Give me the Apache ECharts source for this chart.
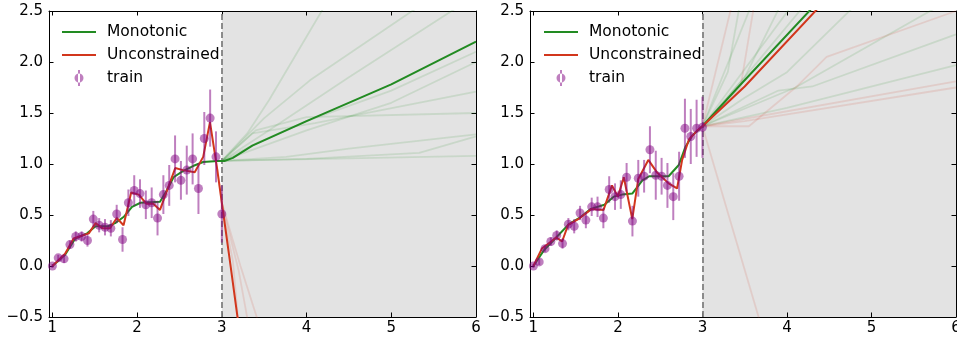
<!DOCTYPE html>
<html>
<head>
<meta charset="utf-8">
<script src="https://cdn.jsdelivr.net/npm/echarts@6/dist/echarts.min.js"></script>
<style>
  html, body { margin: 0; padding: 0; background: #fff; }
  #chart { width: 957px; height: 337px; }
</style>
</head>
<body>
<div id="chart"></div>
<script>
const FONT = 'DejaVu Sans';
const GREEN = '#228b22';
const RED = '#d2361c';
const PURPLE = '#800080';

// training points (shared x)
const trainX = [1.000, 1.069, 1.138, 1.207, 1.276, 1.345, 1.414, 1.483, 1.552, 1.621,
  1.690, 1.759, 1.828, 1.897, 1.966, 2.034, 2.103, 2.172, 2.241, 2.310,
  2.379, 2.448, 2.517, 2.586, 2.655, 2.724, 2.793, 2.862, 2.931, 3.000];

const leftTrainY = [0.00, 0.08, 0.07, 0.21, 0.29, 0.29, 0.25, 0.46, 0.40, 0.38,
  0.37, 0.51, 0.26, 0.62, 0.74, 0.71, 0.60, 0.62, 0.47, 0.70,
  0.79, 1.05, 0.84, 0.94, 1.05, 0.76, 1.25, 1.45, 1.07, 0.51];
const leftTrainErr = [0.02, 0.03, 0.04, 0.04, 0.05, 0.05, 0.06, 0.08, 0.07, 0.08,
  0.08, 0.09, 0.12, 0.13, 0.15, 0.14, 0.14, 0.15, 0.17, 0.19,
  0.20, 0.23, 0.19, 0.24, 0.25, 0.25, 0.26, 0.28, 0.25, 0.28];

const rightTrainY = [0.00, 0.04, 0.17, 0.24, 0.30, 0.22, 0.41, 0.39, 0.52, 0.45,
  0.58, 0.58, 0.47, 0.75, 0.68, 0.70, 0.87, 0.44, 0.86, 0.88,
  1.14, 0.89, 0.88, 0.79, 0.68, 0.88, 1.35, 1.27, 1.35, 1.36];
const rightTrainErr = [0.02, 0.03, 0.03, 0.04, 0.05, 0.05, 0.06, 0.07, 0.07, 0.08,
  0.09, 0.10, 0.10, 0.13, 0.13, 0.14, 0.14, 0.15, 0.18, 0.16,
  0.23, 0.24, 0.18, 0.22, 0.23, 0.24, 0.29, 0.27, 0.28, 0.30];

// fitted curves
const leftMono = [[1, 0], [1.15, 0.11], [1.27, 0.27], [1.41, 0.32], [1.51, 0.39], [1.66, 0.39],
  [1.74, 0.42], [1.84, 0.48], [1.94, 0.58], [2.04, 0.62], [2.27, 0.63], [2.35, 0.74],
  [2.43, 0.87], [2.54, 0.93], [2.66, 0.98], [2.78, 1.02], [2.95, 1.03], [3.03, 1.03],
  [3.13, 1.06], [3.36, 1.18], [4.0, 1.42], [5.0, 1.78], [6, 2.2]];
const leftUncon = [[1, 0], [1.15, 0.12], [1.25, 0.27], [1.43, 0.32], [1.51, 0.42], [1.59, 0.37],
  [1.68, 0.37], [1.76, 0.47], [1.84, 0.40], [1.93, 0.72], [2.02, 0.70], [2.11, 0.61],
  [2.19, 0.61], [2.27, 0.55], [2.45, 0.96], [2.54, 0.94], [2.68, 0.92], [2.78, 1.07],
  [2.86, 1.41], [2.94, 0.98], [3.0, 0.62], [3.1, 0.02], [3.25, -0.9]];

const rightMono = [[1, 0], [1.13, 0.16], [1.27, 0.28], [1.42, 0.41], [1.56, 0.48], [1.68, 0.56],
  [1.84, 0.60], [1.95, 0.68], [2.05, 0.70], [2.17, 0.71], [2.29, 0.84], [2.37, 0.88],
  [2.6, 0.88], [2.72, 0.99], [2.8, 1.17], [2.88, 1.28], [3.0, 1.37], [3.43, 1.76], [4.4, 2.62]];
const rightUncon = [[1, 0], [1.1, 0.17], [1.21, 0.24], [1.27, 0.28], [1.34, 0.24], [1.41, 0.40],
  [1.55, 0.47], [1.69, 0.56], [1.83, 0.55], [1.93, 0.79], [2.0, 0.68], [2.07, 0.87],
  [2.17, 0.46], [2.24, 0.85], [2.36, 1.04], [2.46, 0.92], [2.6, 0.81], [2.7, 0.76],
  [2.76, 1.04], [2.84, 1.24], [2.94, 1.33], [3.0, 1.37], [3.5, 1.76], [4.45, 2.6]];

// faint ensemble members in the extrapolation region
const leftMonoFan = [
  [[3, 1.03], [3.3, 1.3], [3.56, 1.63], [4.25, 2.6]],
  [[3, 1.03], [3.5, 1.45], [4.04, 1.82], [5.3, 2.53]],
  [[3, 1.03], [3.5, 1.3], [4.5, 1.85], [5.75, 2.52]],
  [[3, 1.03], [3.4, 1.2], [4, 1.42], [5, 1.72], [6, 2.1]],
  [[3, 1.03], [4, 1.33], [5, 1.6], [6, 2.0]],
  [[3, 1.03], [3.36, 1.3], [4.1, 1.4], [6, 1.71]],
  [[3, 1.03], [3.4, 1.33], [4, 1.46], [6, 1.5]],
  [[3, 1.03], [4, 1.05], [5.33, 1.11], [6, 1.27]],
  [[3, 1.03], [3.76, 1.07], [4.5, 1.15], [6, 1.29]],
  [[3, 1.03], [6, 1.08]]
];
const leftUnconFan = [
  [[2.95, 0.95], [3.0, 0.62], [3.2, -0.05], [3.32, -0.6]],
  [[3.0, 0.62], [3.22, 0.0], [3.45, -0.6]],
  [[3.0, 0.6], [3.13, 0.05], [3.2, -0.6]]
];
const rightMonoFan = [
  [[3, 1.37], [3.6, 2.6]],
  [[3, 1.37], [3.5, 1.85], [3.95, 2.6]],
  [[3, 1.37], [4.1, 2.6]],
  [[3, 1.37], [3.5, 1.65], [4.0, 1.9], [4.8, 2.55]],
  [[3, 1.37], [4.1, 1.75], [5.8, 2.55]],
  [[3, 1.37], [3.9, 1.72], [4.3, 1.76], [6, 2.27]],
  [[3, 1.37], [4.0, 1.55], [6, 1.97]],
  [[3, 1.37], [3.6, 1.95], [4.25, 2.6]],
  [[3, 1.37], [3.3, 1.9], [3.45, 2.6]]
];
const rightUnconFan = [
  [[3, 1.37], [3.36, 2.6]],
  [[3, 1.37], [3.45, 1.75], [3.62, 2.6]],
  [[3, 1.37], [3.55, 1.37], [4.13, 1.77], [4.47, 2.05], [6, 2.5]],
  [[3, 1.37], [6, 1.81]],
  [[3, 1.37], [3.5, 1.42], [6, 1.75]],
  [[3, 1.37], [3.7, -0.6]]
];

const xTicks = [1, 2, 3, 4, 5, 6];

const chart = echarts.init(document.getElementById('chart'));

const grids = [
  { left: 49, top: 11, width: 427, height: 306, outerBoundsMode: 'none', containLabel: false },
  { left: 530, top: 11, width: 426, height: 306, outerBoundsMode: 'none', containLabel: false }
];

const axisLine = { show: true, onZero: false, lineStyle: { color: '#000', width: 1 } };
const tickStyle = { show: true, inside: true, length: 4.5, lineStyle: { color: '#000', width: 1 } };

function xAxis(gi, pos) {
  return {
    type: 'value', gridIndex: gi, position: pos, min: 0.96, max: 6,
    axisLine: axisLine,
    axisTick: { ...tickStyle, customValues: xTicks },
    axisLabel: {
      show: pos === 'bottom', customValues: xTicks, margin: 4,
      fontSize: 15, color: '#000', fontFamily: FONT
    },
    splitLine: { show: false }
  };
}

function yAxis(gi, pos) {
  return {
    type: 'value', gridIndex: gi, position: pos, min: -0.5, max: 2.5, interval: 0.5,
    axisLine: axisLine,
    axisTick: tickStyle,
    axisLabel: {
      show: pos === 'left', margin: 6, fontSize: 15, color: '#000', fontFamily: FONT,
      formatter: (v) => (v < 0 ? '\u2212' + Math.abs(v).toFixed(1) : v.toFixed(1))
    },
    splitLine: { show: false }
  };
}

function panel(gi, mono, uncon, monoFan, unconFan, ys, errs) {
  const base = { xAxisIndex: gi * 2, yAxisIndex: gi * 2 };
  const out = [];
  // shaded extrapolation region + dashed boundary
  out.push({
    ...base, type: 'line', data: [], silent: true, z: 0,
    markArea: {
      silent: true, z: 0, itemStyle: { color: '#e3e3e3' },
      data: [[{ xAxis: 3 }, { xAxis: 6 }]]
    },
    markLine: {
      silent: true, z: 3, symbol: ['none', 'none'], label: { show: false },
      lineStyle: { color: '#808080', type: [6, 3], width: 1.8 },
      data: [{ xAxis: 3 }]
    }
  });
  monoFan.forEach((d) => out.push({
    ...base, type: 'line', data: d, symbol: 'none', silent: true, z: 2,
    lineStyle: { color: GREEN, width: 1.8, opacity: 0.13 }
  }));
  unconFan.forEach((d) => out.push({
    ...base, type: 'line', data: d, symbol: 'none', silent: true, z: 2,
    lineStyle: { color: RED, width: 1.8, opacity: 0.13 }
  }));
  out.push({
    ...base, name: 'Monotonic', type: 'line', data: mono, symbol: 'none', z: 4,
    itemStyle: { color: GREEN }, lineStyle: { color: GREEN, width: 2 }
  });
  out.push({
    ...base, name: 'Unconstrained', type: 'line', data: uncon, symbol: 'none', z: 4,
    itemStyle: { color: RED }, lineStyle: { color: RED, width: 2 }
  });
  out.push({
    ...base, type: 'custom', z: 5, silent: true,
    data: trainX.map((x, i) => [x, ys[i], errs[i]]),
    encode: { x: 0, y: 1 },
    renderItem: (params, api) => {
      const x = api.value(0), y = api.value(1), e = api.value(2);
      const p1 = api.coord([x, y - e]);
      const p2 = api.coord([x, y + e]);
      return {
        type: 'line',
        shape: { x1: p1[0], y1: p1[1], x2: p2[0], y2: p2[1] },
        style: { stroke: PURPLE, lineWidth: 2, opacity: 0.5 }
      };
    }
  });
  out.push({
    ...base, name: 'train', type: 'scatter', z: 6, symbolSize: 9,
    data: trainX.map((x, i) => [x, ys[i]]),
    itemStyle: { color: PURPLE, opacity: 0.5 }
  });
  return out;
}

const lineIcon = 'path://M0,8H34V10H0Z M0,0L0,0 M40,18L40,18';
const trainIcon = 'path://M12.5,9A4.5,4.5 0 1 0 21.5,9A4.5,4.5 0 1 0 12.5,9Z M16,1H18V17H16Z M0,0L0,0 M40,18L40,18';

function legend(left) {
  return {
    left: left, top: 23, orient: 'vertical', padding: 0,
    itemWidth: 40, itemHeight: 18, itemGap: 5,
    textStyle: { fontSize: 15.5, color: '#000', fontFamily: FONT },
    data: [
      { name: 'Monotonic', icon: lineIcon, itemStyle: { color: GREEN, borderWidth: 0 } },
      { name: 'Unconstrained', icon: lineIcon, itemStyle: { color: RED, borderWidth: 0 } },
      { name: 'train', icon: trainIcon, itemStyle: { color: PURPLE, opacity: 0.5, borderWidth: 0 } }
    ]
  };
}

const option = {
  animation: false,
  backgroundColor: '#fff',
  grid: grids,
  legend: [legend(62), legend(544)],
  xAxis: [xAxis(0, 'bottom'), xAxis(0, 'top'), xAxis(1, 'bottom'), xAxis(1, 'top')],
  yAxis: [yAxis(0, 'left'), yAxis(0, 'right'), yAxis(1, 'left'), yAxis(1, 'right')],
  series: [
    ...panel(0, leftMono, leftUncon, leftMonoFan, leftUnconFan, leftTrainY, leftTrainErr),
    ...panel(1, rightMono, rightUncon, rightMonoFan, rightUnconFan, rightTrainY, rightTrainErr)
  ]
};

chart.setOption(option);
</script>
</body>
</html>
